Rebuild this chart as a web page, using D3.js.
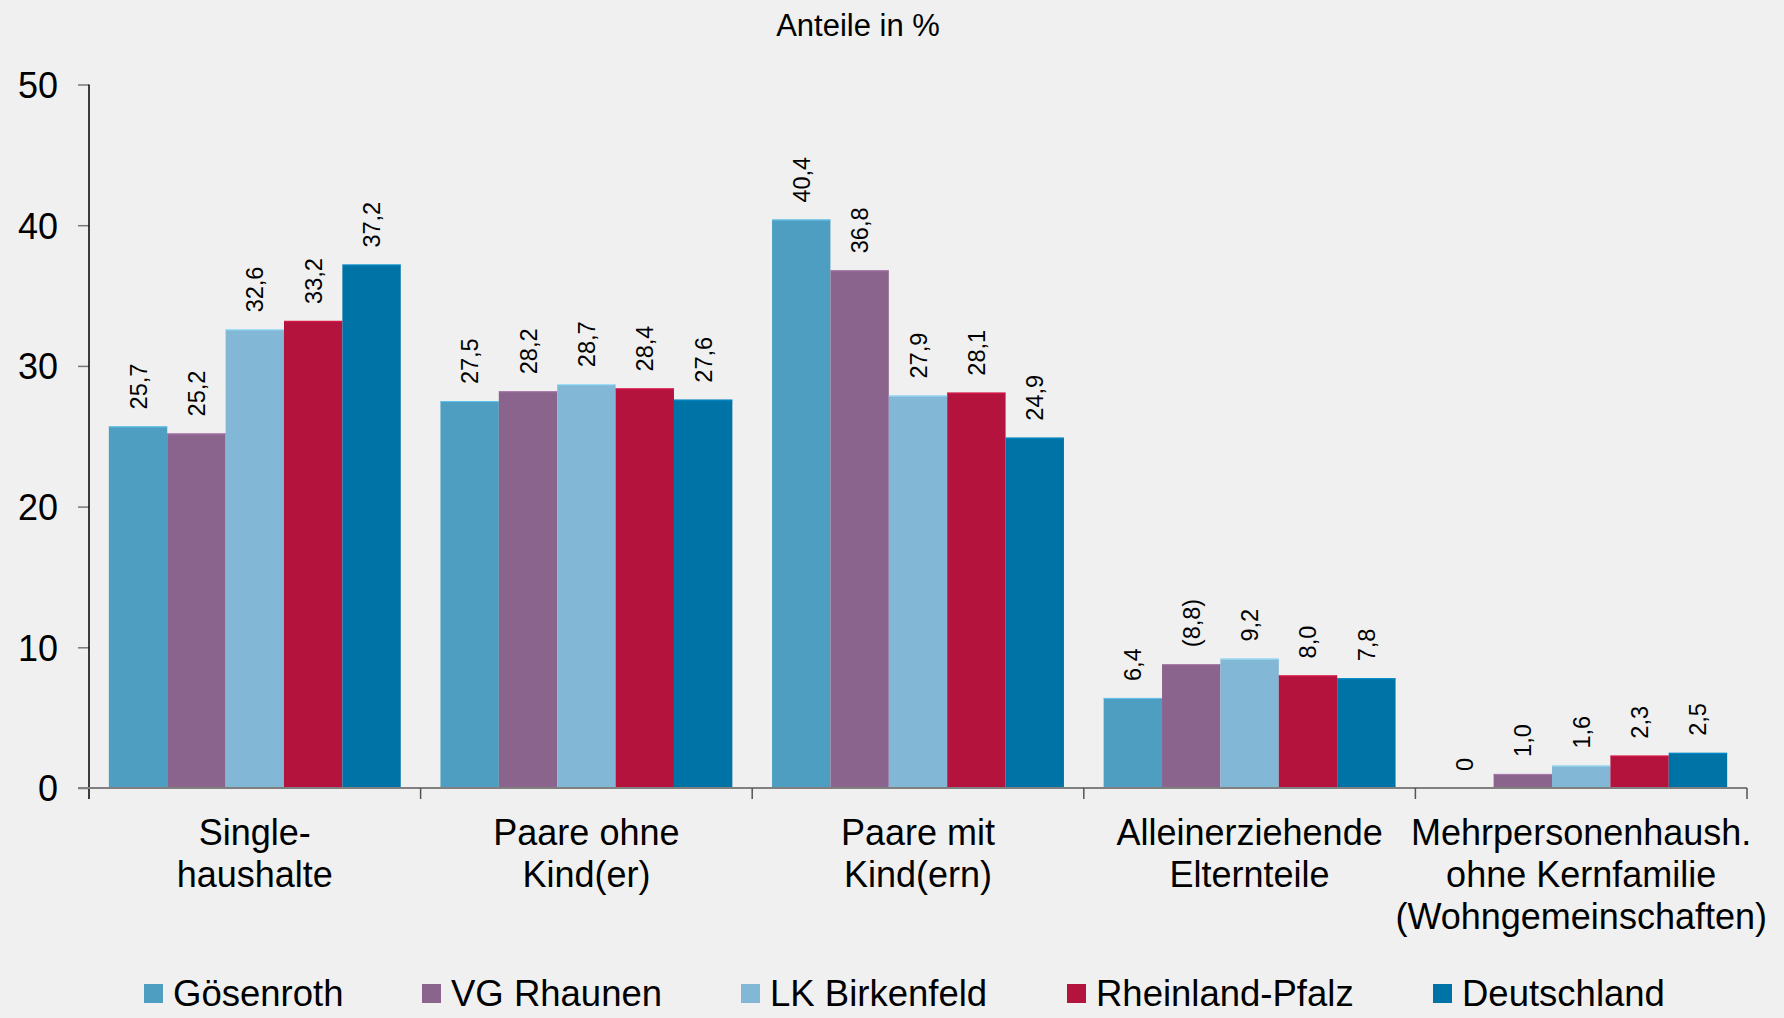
<!DOCTYPE html>
<html>
<head>
<meta charset="utf-8">
<script src="https://cdn.jsdelivr.net/npm/d3@7"></script>
<style>
  body { margin: 0; background: #eff0ef; }
  svg { display: block; font-family: "Liberation Sans", Arial, sans-serif; }
</style>
</head>
<body>
<svg id="chart" width="1784" height="1018"></svg>
<script>
// categories (x groups), each label split into lines
var categories = ["Singlehaushalte", "Paare ohne Kind(er)", "Paare mit Kind(ern)", "Alleinerziehende Elternteile", "Mehrpersonenhaushalte"];
var categoryLines = [
    ["Single-", "haushalte"],
    ["Paare ohne", "Kind(er)"],
    ["Paare mit", "Kind(ern)"],
    ["Alleinerziehende", "Elternteile"],
    ["Mehrpersonenhaush.", "ohne Kernfamilie", "(Wohngemeinschaften)"]
];
var series = ["Gösenroth", "VG Rhaunen", "LK Birkenfeld", "Rheinland-Pfalz", "Deutschland"];
var colors = ["#4e9ec1", "#8b648d", "#82b8d5", "#b4133d", "#0073a6"];

// values per series, in category order
var goesenroth = [25.7, 27.5, 40.4, 6.4, 0];
var vgRhaunen = [25.2, 28.2, 36.8, 8.8, 1.0];
var lkBirkenfeld = [32.6, 28.7, 27.9, 9.2, 1.6];
var rheinlandPfalz = [33.2, 28.4, 28.1, 8.0, 2.3];
var deutschland = [37.2, 27.6, 24.9, 7.8, 2.5];
var values = [goesenroth, vgRhaunen, lkBirkenfeld, rheinlandPfalz, deutschland];

// labels shown in brackets (low case numbers): [series index, category index]
var bracketed = [[1, 3]];

var yTicks = [0, 10, 20, 30, 40, 50];

var svg = d3.select("#chart");

var plotLeft = 89, plotRight = 1747, plotTop = 84.5, plotBottom = 788;

var x0 = d3.scaleBand().domain(categories).range([plotLeft, plotRight]);
var x1 = d3.scaleBand().domain(series).range([0, x0.bandwidth()]).paddingOuter(0.34);
var y = d3.scaleLinear().domain([0, 50]).range([plotBottom, plotTop]);

var fmt = function (v) { return v === 0 ? "0" : d3.format(".1f")(v).replace(".", ","); };

// title
svg.append("text")
    .attr("x", 858)
    .attr("y", 36)
    .attr("text-anchor", "middle")
    .style("font-size", "31px")
    .text("Anteile in %");

// bars
var rows = [];
values.forEach(function (vals, si) {
    vals.forEach(function (v, ci) {
        rows.push({ s: si, c: ci, v: v });
    });
});

var bars = svg.append("g");
bars.selectAll("rect")
    .data(rows.filter(function (d) { return d.v > 0; }))
    .enter().append("rect")
    .attr("x", function (d) { return x0(categories[d.c]) + x1(series[d.s]); })
    .attr("y", function (d) { return y(d.v); })
    .attr("width", x1.bandwidth())
    .attr("height", function (d) { return y(0) - y(d.v); })
    .attr("fill", function (d) { return colors[d.s]; });

// light top edge
bars.selectAll("line")
    .data(rows.filter(function (d) { return d.v > 0; }))
    .enter().append("line")
    .attr("x1", function (d) { return x0(categories[d.c]) + x1(series[d.s]); })
    .attr("x2", function (d) { return x0(categories[d.c]) + x1(series[d.s]) + x1.bandwidth(); })
    .attr("y1", function (d) { return y(d.v) + 0.5; })
    .attr("y2", function (d) { return y(d.v) + 0.5; })
    .attr("stroke", function (d) { return d3.color(colors[d.s]).brighter(0.6); })
    .attr("stroke-width", 1);

// value labels (rotated)
svg.append("g").selectAll("text")
    .data(rows)
    .enter().append("text")
    .attr("transform", function (d) {
        var cx = x0(categories[d.c]) + x1(series[d.s]) + x1.bandwidth() / 2;
        return "translate(" + (cx + 8.5) + "," + (y(d.v) - 17) + ") rotate(-90)";
    })
    .attr("text-anchor", "start")
    .style("font-size", "23.5px")
    .text(function (d) {
        var t = fmt(d.v);
        var b = bracketed.some(function (p) { return p[0] === d.s && p[1] === d.c; });
        return b ? "(" + t + ")" : t;
    });

// y axis
var yAxis = svg.append("g")
    .attr("transform", "translate(" + plotLeft + ",0)")
    .call(d3.axisLeft(y).tickValues(yTicks).tickSize(11).tickPadding(20));
yAxis.select(".domain").remove();
yAxis.selectAll(".tick line").attr("stroke", "#777").attr("stroke-width", 1.5);
yAxis.selectAll(".tick text")
    .style("font-size", "36px")
    .style("font-family", "'Liberation Sans', Arial, sans-serif")
    .attr("fill", "#000")
    .attr("dy", "0.36em");
svg.append("line")
    .attr("x1", plotLeft).attr("x2", plotLeft)
    .attr("y1", plotTop).attr("y2", plotBottom + 11)
    .attr("stroke", "#000").attr("stroke-width", 1.5);

// x axis line and boundary ticks
svg.append("line")
    .attr("x1", plotLeft - 11).attr("x2", plotRight)
    .attr("y1", plotBottom).attr("y2", plotBottom)
    .attr("stroke", "#808080").attr("stroke-width", 2);
var bounds = categories.map(function (c) { return x0(c) + x0.bandwidth(); });
svg.append("g").selectAll("line")
    .data(bounds)
    .enter().append("line")
    .attr("x1", function (d) { return d; })
    .attr("x2", function (d) { return d; })
    .attr("y1", plotBottom)
    .attr("y2", plotBottom + 11)
    .attr("stroke", "#555").attr("stroke-width", 1.5);

// category labels
var catG = svg.append("g").selectAll("text")
    .data(categories)
    .enter().append("text")
    .attr("x", function (c) { return x0(c) + x0.bandwidth() / 2; })
    .attr("y", 845)
    .attr("text-anchor", "middle")
    .style("font-size", "36px");
catG.selectAll("tspan")
    .data(function (c, i) { return categoryLines[i]; })
    .enter().append("tspan")
    .attr("x", function () { return d3.select(this.parentNode).attr("x"); })
    .attr("dy", function (d, i) { return i === 0 ? 0 : 42; })
    .text(function (d) { return d; });

// legend
var legendX = [144, 422, 741, 1067, 1433];
var legend = svg.append("g").selectAll("g")
    .data(series)
    .enter().append("g")
    .attr("transform", function (d, i) { return "translate(" + legendX[i] + ",984)"; });
legend.append("rect")
    .attr("width", 19).attr("height", 19)
    .attr("fill", function (d, i) { return colors[i]; });
legend.append("text")
    .attr("x", 29)
    .attr("y", 22)
    .style("font-size", "36.5px")
    .text(function (d) { return d; });
</script>
</body>
</html>
